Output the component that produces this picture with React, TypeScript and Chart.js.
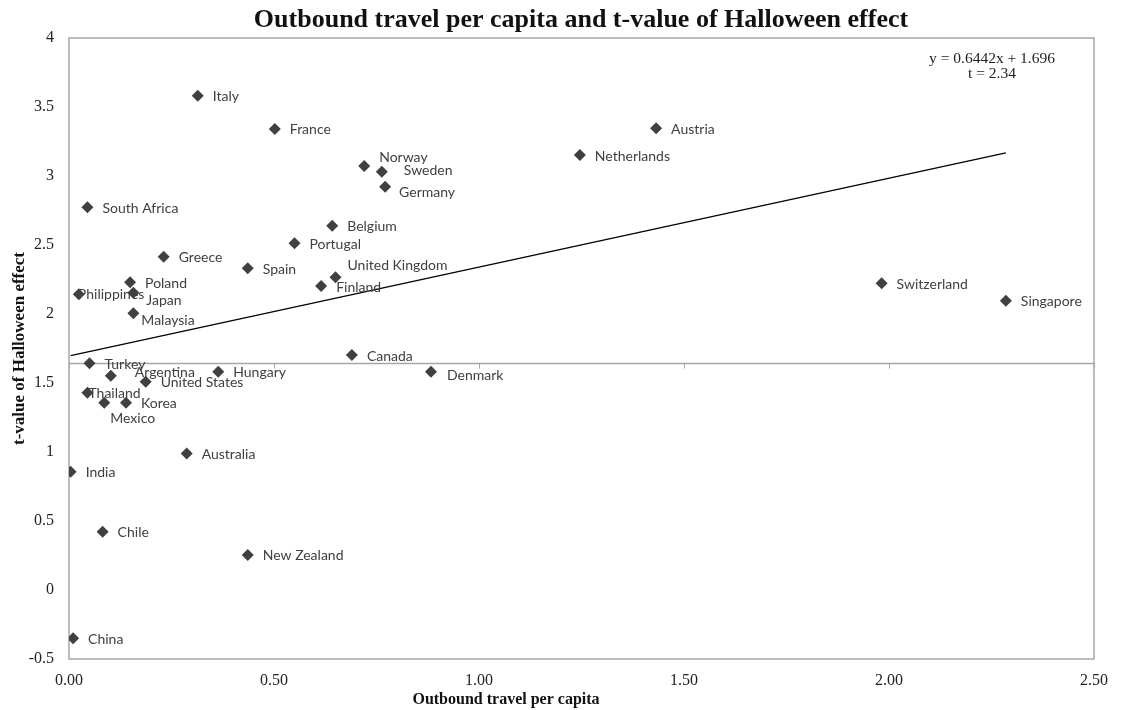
import React, { useEffect, useRef } from "react";
import { Chart, registerables } from "chart.js";

Chart.register(...registerables);

const countries = [
  "Italy", "France", "Norway", "Sweden", "Germany", "Belgium", "Portugal", "Spain",
  "United Kingdom", "Finland", "Greece", "Netherlands", "Austria", "South Africa",
  "Poland", "Philippines", "Japan", "Malaysia", "Turkey", "Argentina", "United States",
  "Hungary", "Thailand", "Mexico", "Korea", "Australia", "India", "Chile",
  "New Zealand", "China", "Canada", "Denmark", "Switzerland", "Singapore",
];

const outboundTravel = [
  0.314, 0.502, 0.72, 0.763, 0.771, 0.642, 0.55, 0.436,
  0.65, 0.615, 0.231, 1.246, 1.432, 0.045,
  0.149, 0.024, 0.157, 0.157, 0.05, 0.102, 0.187,
  0.364, 0.045, 0.086, 0.139, 0.287, 0.004, 0.082,
  0.436, 0.01, 0.69, 0.883, 1.982, 2.285,
];

const tValues = [
  3.582, 3.341, 3.072, 3.031, 2.923, 2.64, 2.512, 2.331,
  2.266, 2.203, 2.415, 3.152, 3.346, 2.773,
  2.23, 2.143, 2.154, 2.005, 1.643, 1.553, 1.509,
  1.582, 1.43, 1.357, 1.357, 0.99, 0.857, 0.423,
  0.254, -0.35, 1.703, 1.582, 2.222, 2.096,
];

const xTickValues = [0, 0.5, 1, 1.5, 2, 2.5];
const trendSlope = 0.6442;
const trendIntercept = 1.696;
const trendT = 2.34;
const criticalT = 1.645;

const chartTitle = "Outbound travel per capita and t-value of Halloween effect";
const xTitle = "Outbound travel per capita";
const yTitle = "t-value of Halloween effect";

// label placement (style only): offsets from the marker centre
const labelOffsets: Record<string, [number, number]> = {
  Norway: [15, -9],
  Sweden: [22, -1],
  Germany: [14, 6],
  "United Kingdom": [12, -12],
  Philippines: [-1, 0],
  Japan: [13, 8],
  Malaysia: [8, 7],
  Argentina: [24, -3],
  Thailand: [1, 1],
  Mexico: [6, 16],
  Denmark: [16, 4],
};
const defaultOffset: [number, number] = [15, 1];

const AXIS_GRAY = "#a6a6a6";

const decorPlugin = {
  id: "decor",
  beforeDatasetsDraw(chart: any) {
    const { ctx, chartArea } = chart;
    const xs = chart.scales.x;
    const ys = chart.scales.y;
    ctx.save();
    ctx.strokeStyle = AXIS_GRAY;
    ctx.lineWidth = 1.5;
    ctx.strokeRect(chartArea.left, chartArea.top, chartArea.right - chartArea.left, chartArea.bottom - chartArea.top);
    const yc = Math.round(ys.getPixelForValue(criticalT)) + 0.5;
    ctx.lineWidth = 1.5;
    ctx.beginPath();
    ctx.moveTo(chartArea.left, yc);
    ctx.lineTo(chartArea.right, yc);
    ctx.stroke();
    ctx.lineWidth = 1;
    for (const v of xTickValues) {
      const px = Math.round(xs.getPixelForValue(v)) + 0.5;
      ctx.beginPath();
      ctx.moveTo(px, yc);
      ctx.lineTo(px, yc + 5);
      ctx.stroke();
    }
    ctx.restore();
  },
  afterDatasetsDraw(chart: any) {
    const { ctx, chartArea } = chart;
    const meta = chart.getDatasetMeta(0);
    ctx.save();
    ctx.fillStyle = "#404040";
    ctx.font = "14px Lato";
    ctx.textBaseline = "middle";
    ctx.textAlign = "left";
    meta.data.forEach((el: any, i: number) => {
      const name = countries[i];
      const off = labelOffsets[name] || defaultOffset;
      ctx.fillText(name, el.x + off[0], el.y + off[1]);
    });

    // equation
    ctx.fillStyle = "#222";
    ctx.font = "15.5px 'Liberation Serif'";
    ctx.textAlign = "center";
    ctx.fillText(`y = ${trendSlope}x + ${trendIntercept}`, 992, 59);
    ctx.fillText(`t = ${trendT}`, 992, 74);

    // title
    ctx.fillStyle = "#111";
    ctx.font = "bold 26px 'Liberation Serif'";
    ctx.fillText(chartTitle, 581, 20);

    // axis titles
    ctx.font = "bold 16px 'Liberation Serif'";
    ctx.fillText(xTitle, 506, 700);
    ctx.translate(20, (chartArea.top + chartArea.bottom) / 2);
    ctx.rotate(-Math.PI / 2);
    ctx.font = "bold 17px 'Liberation Serif'";
    ctx.fillText(yTitle, 0, 0);
    ctx.restore();
  },
};

export default function App() {
  const canvasRef = useRef<HTMLCanvasElement | null>(null);

  useEffect(() => {
    if (!canvasRef.current) return;
    const points = outboundTravel.map((x, i) => ({ x, y: tValues[i] }));
    const minX = Math.min(...outboundTravel);
    const maxX = Math.max(...outboundTravel);
    const trend = [
      { x: minX, y: trendSlope * minX + trendIntercept },
      { x: maxX, y: trendSlope * maxX + trendIntercept },
    ];
    const chart = new Chart(canvasRef.current, {
      type: "scatter",
      data: {
        datasets: [
          {
            label: "Countries",
            data: points,
            pointStyle: "rectRot",
            pointRadius: 6,
            pointHoverRadius: 6,
            backgroundColor: "#404040",
            borderColor: "#404040",
            borderWidth: 0,
          },
          {
            label: "Trend",
            type: "line",
            data: trend,
            borderColor: "#000",
            borderWidth: 1.3,
            pointRadius: 0,
            fill: false,
          } as any,
        ],
      },
      options: {
        responsive: false,
        animation: false,
        devicePixelRatio: 1,
        layout: { padding: { top: 38, right: 30, left: 0, bottom: 0 } },
        plugins: {
          legend: { display: false },
          tooltip: { enabled: false },
          title: { display: false },
        },
        scales: {
          x: {
            type: "linear",
            min: 0,
            max: 2.5,
            afterFit: (s: any) => { s.height = 51; },
            border: { display: false },
            grid: { display: false, drawTicks: false },
            ticks: {
              stepSize: 0.5,
              padding: 12,
              color: "#222",
              font: { family: "'Liberation Serif'", size: 16 },
              callback: (v: any) => Number(v).toFixed(2),
            },
          },
          y: {
            type: "linear",
            min: -0.5,
            max: 4,
            afterFit: (s: any) => { s.width = 69; },
            border: { display: false },
            grid: { display: false, drawTicks: false },
            ticks: {
              stepSize: 0.5,
              padding: 15,
              color: "#222",
              font: { family: "'Liberation Serif'", size: 16 },
              callback: (v: any) => String(v),
            },
          },
        },
      },
      plugins: [decorPlugin],
    });
    return () => chart.destroy();
  }, []);

  return (
    <div style={{ position: "fixed", left: 0, top: 0, width: 1124, height: 710, background: "#fff" }}>
      <canvas ref={canvasRef} width={1124} height={710} />
    </div>
  );
}
